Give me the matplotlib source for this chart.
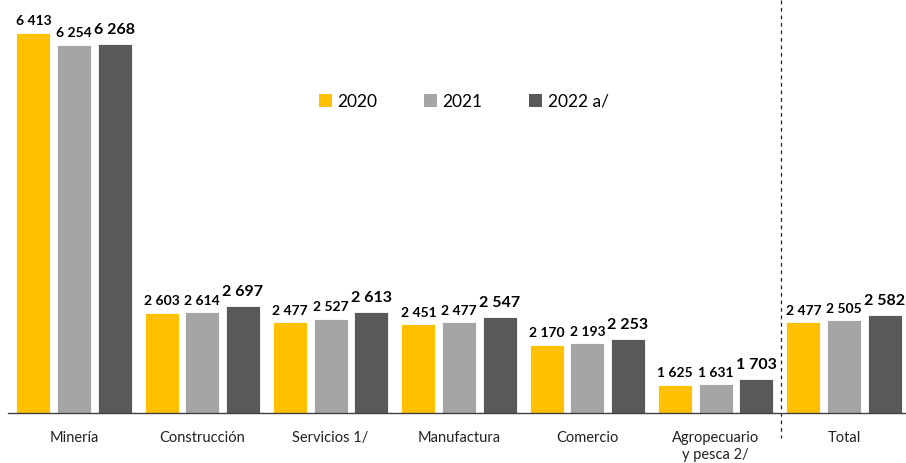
import matplotlib
matplotlib.use('Agg')
import matplotlib.pyplot as plt
import numpy as np
from matplotlib.patches import Patch

plt.rcParams['font.family'] = ['Lato', 'DejaVu Sans']

categories = ['Minería', 'Construcción', 'Servicios 1/', 'Manufactura', 'Comercio',
              'Agropecuario\ny pesca 2/', 'Total']
series_names = ['2020', '2021', '2022 a/']
v2020 = [6413, 2603, 2477, 2451, 2170, 1625, 2477]
v2021 = [6254, 2614, 2527, 2477, 2193, 1631, 2505]
v2022 = [6268, 2697, 2613, 2547, 2253, 1703, 2582]

colors = ['#FFC000', '#A5A5A5', '#595959']
label_sizes = [10, 10, 11.5]
label_offsets = [4, 4, 5]

def fmt(v):
    return f'{v:,}'.replace(',', ' ')

fig = plt.figure(figsize=(9.06, 4.63), dpi=100)
ax = fig.add_axes([8/906, 1 - 413/463, 898/906, 413/463])

x = np.arange(len(categories))
w = 0.265
step = 0.316
for i, (vals, col) in enumerate(zip([v2020, v2021, v2022], colors)):
    pos = x + (i - 1) * step
    bars = ax.bar(pos, vals, width=w, color=col, edgecolor='white', linewidth=0.6)
    for b, v in zip(bars, vals):
        ax.annotate(fmt(v), (b.get_x() + b.get_width()/2, v),
                    xytext=(0, label_offsets[i]),
                    textcoords='offset points', ha='center', va='bottom',
                    fontsize=label_sizes[i], fontweight='bold', color='black')

ax.set_ylim(1242, 6861)
ax.set_xlim(-0.514, 6.483)

ax.set_xticks(x)
ax.set_xticklabels(categories, fontsize=10.5, color='#222222', linespacing=1.3)
ax.tick_params(axis='x', length=0, pad=13)
ax.set_yticks([])
for s in ['top', 'right', 'left']:
    ax.spines[s].set_visible(False)
ax.spines['bottom'].set_color('#404040')
ax.spines['bottom'].set_linewidth(1)

# separator before Total
ax.plot([5.51, 5.51], [6861, 1242 - 25/0.0735], ls=(0, (3, 3)), color='#222222',
        lw=0.9, clip_on=False)

handles = [Patch(facecolor=c, edgecolor='none') for c in colors]
leg = ax.legend(handles, series_names, loc='center', bbox_to_anchor=(0.512, 0.78),
                bbox_transform=fig.transFigure, ncol=3, frameon=False, fontsize=12.5,
                handlelength=0.75, handleheight=0.75, handletextpad=0.3,
                columnspacing=2.7)

fig.savefig('out.png', dpi=100)
